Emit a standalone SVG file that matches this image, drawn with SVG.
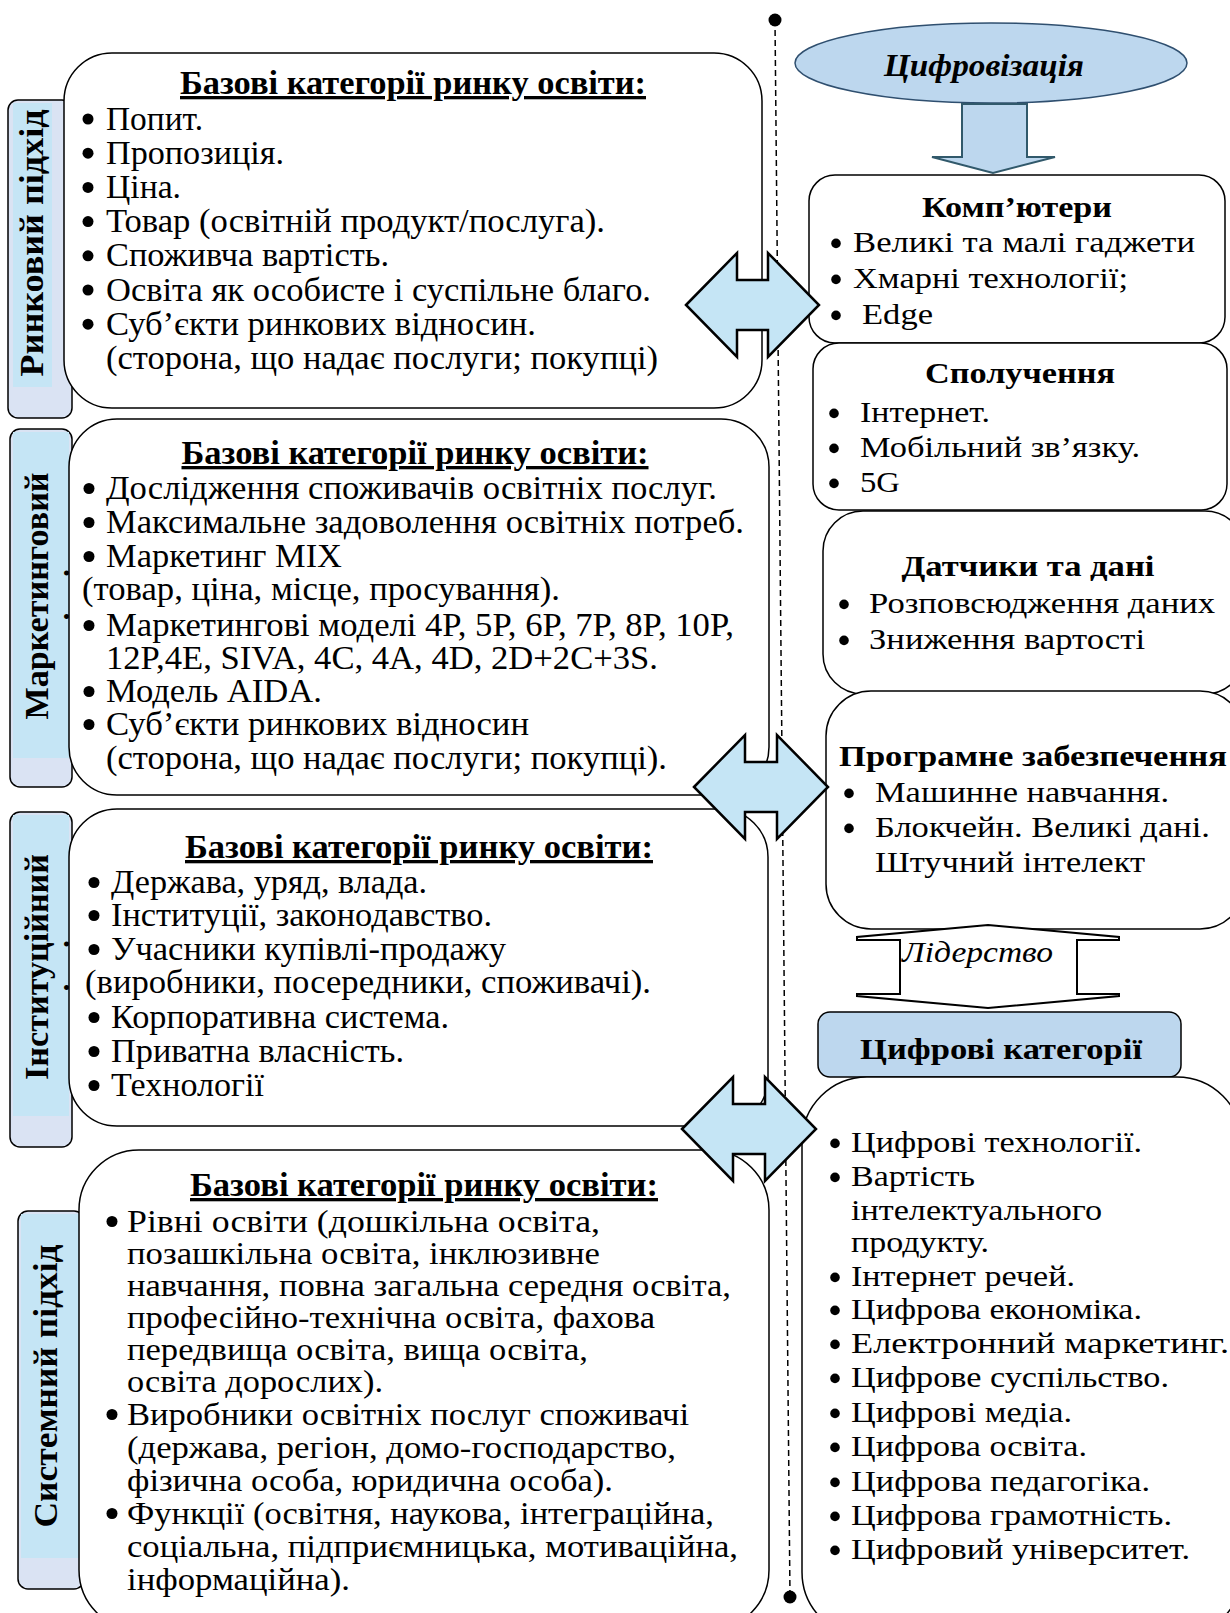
<svg xmlns="http://www.w3.org/2000/svg" width="1230" height="1613" viewBox="0 0 1230 1613">
<style>
text{font-family:"Liberation Serif","Times New Roman",serif;fill:#000}
.b{font-size:33px}
.b4{font-size:31px}
.r{font-size:30px}
.t{font-size:33px;font-weight:bold;text-decoration:underline}
.rt{font-size:30px;font-weight:bold}
.lab{font-size:34px;font-weight:bold}
.box{fill:#fff;stroke:#000;stroke-width:1.5}
.lbl{fill:#dae3f3;stroke:#000;stroke-width:1.5}
.lblin{fill:#c5e5f5}
.dot{fill:#000}
.dbl{fill:#c5e5f5;stroke:#000;stroke-width:2.5;stroke-linejoin:miter}
</style>
<defs>
<clipPath id="cL2"><rect x="10" y="429" width="62" height="358" rx="10"/></clipPath>
<clipPath id="cL3"><rect x="10" y="812" width="62" height="335" rx="10"/></clipPath>
</defs>
<rect width="1230" height="1613" fill="#fff"/>

<g id="connectors">
<path d="M775 20 L790 1597" stroke="#000" stroke-width="1.5" stroke-dasharray="6 4" fill="none"/>
<circle cx="775" cy="20" r="6.5" fill="#000"/>
<circle cx="790" cy="1597" r="6.5" fill="#000"/>
</g>

<g id="label-market">
<rect class="lbl" x="8" y="100" width="64" height="318" rx="10"/>
<rect class="lblin" x="13" y="103" width="39" height="284"/>
<text class="lab" transform="translate(43,243) rotate(-90)" text-anchor="middle" textLength="267" lengthAdjust="spacingAndGlyphs">Ринковий підхід</text>
</g>

<g id="box-market">
<rect class="box" x="64" y="53" width="698" height="355" rx="48"/>
<text class="t" x="413" y="94" text-anchor="middle" textLength="466" lengthAdjust="spacingAndGlyphs">Базові категорії ринку освіти:</text>
<g class="dot"><circle cx="88" cy="119" r="5.5"/><circle cx="88" cy="153.2" r="5.5"/><circle cx="88" cy="187.4" r="5.5"/><circle cx="88" cy="221.6" r="5.5"/><circle cx="88" cy="255.8" r="5.5"/><circle cx="88" cy="290" r="5.5"/><circle cx="88" cy="324.2" r="5.5"/></g>
<text class="b" x="106" y="129.5" textLength="97" lengthAdjust="spacingAndGlyphs">Попит.</text>
<text class="b" x="106" y="163.7" textLength="178" lengthAdjust="spacingAndGlyphs">Пропозиція.</text>
<text class="b" x="106" y="197.9" textLength="75" lengthAdjust="spacingAndGlyphs">Ціна.</text>
<text class="b" x="106" y="232.1" textLength="499" lengthAdjust="spacingAndGlyphs">Товар (освітній продукт/послуга).</text>
<text class="b" x="106" y="266.3" textLength="283" lengthAdjust="spacingAndGlyphs">Споживча вартість.</text>
<text class="b" x="106" y="300.5" textLength="545" lengthAdjust="spacingAndGlyphs">Освіта як особисте і суспільне благо.</text>
<text class="b" x="106" y="334.7" textLength="430" lengthAdjust="spacingAndGlyphs">Суб’єкти ринкових відносин.</text>
<text class="b" x="106" y="368.9" textLength="552" lengthAdjust="spacingAndGlyphs">(сторона, що надає послуги; покупці)</text>
</g>

<g id="label-marketing">
<rect class="lbl" x="10" y="429" width="62" height="358" rx="10"/>
<rect class="lblin" x="13" y="432" width="56" height="326"/>
<text class="lab" transform="translate(48,596) rotate(-90)" text-anchor="middle" textLength="247" lengthAdjust="spacingAndGlyphs">Маркетинговий</text>
<g clip-path="url(#cL2)"><text class="lab" transform="translate(88,596) rotate(-90)" text-anchor="middle">підхід</text></g>
</g>

<g id="box-marketing">
<rect class="box" x="69" y="419" width="700" height="376" rx="48"/>
<text class="t" x="415" y="464" text-anchor="middle" textLength="467" lengthAdjust="spacingAndGlyphs">Базові категорії ринку освіти:</text>
<g class="dot"><circle cx="89" cy="488.5" r="5.5"/><circle cx="89" cy="522.5" r="5.5"/><circle cx="89" cy="556.5" r="5.5"/><circle cx="89" cy="625.5" r="5.5"/><circle cx="89" cy="691.5" r="5.5"/><circle cx="89" cy="724.5" r="5.5"/></g>
<text class="b" x="106" y="499" textLength="611" lengthAdjust="spacingAndGlyphs">Дослідження споживачів освітніх послуг.</text>
<text class="b" x="106" y="533" textLength="638" lengthAdjust="spacingAndGlyphs">Максимальне задоволення освітніх потреб.</text>
<text class="b" x="106" y="567" textLength="236" lengthAdjust="spacingAndGlyphs">Маркетинг MIX</text>
<text class="b" x="82" y="600" textLength="478" lengthAdjust="spacingAndGlyphs">(товар, ціна, місце, просування).</text>
<text class="b" x="106" y="636" textLength="628" lengthAdjust="spacingAndGlyphs">Маркетингові моделі 4P, 5P, 6P, 7P, 8P, 10P,</text>
<text class="b" x="106" y="669" textLength="552" lengthAdjust="spacingAndGlyphs">12P,4E, SIVA, 4C, 4A, 4D, 2D+2C+3S.</text>
<text class="b" x="106" y="702" textLength="216" lengthAdjust="spacingAndGlyphs">Модель AIDA.</text>
<text class="b" x="106" y="735" textLength="423" lengthAdjust="spacingAndGlyphs">Суб’єкти ринкових відносин</text>
<text class="b" x="106" y="769" textLength="561" lengthAdjust="spacingAndGlyphs">(сторона, що надає послуги; покупці).</text>
</g>

<g id="label-institutional">
<rect class="lbl" x="10" y="812" width="62" height="335" rx="10"/>
<rect class="lblin" x="13" y="815" width="56" height="301"/>
<text class="lab" transform="translate(48,967) rotate(-90)" text-anchor="middle" textLength="226" lengthAdjust="spacingAndGlyphs">Інституційний</text>
<g clip-path="url(#cL3)"><text class="lab" transform="translate(88,967) rotate(-90)" text-anchor="middle">підхід</text></g>
</g>

<g id="box-institutional">
<rect class="box" x="69" y="809" width="699" height="317" rx="48"/>
<text class="t" x="419" y="858" text-anchor="middle" textLength="468" lengthAdjust="spacingAndGlyphs">Базові категорії ринку освіти:</text>
<g class="dot"><circle cx="94" cy="882.5" r="5.5"/><circle cx="94" cy="915.5" r="5.5"/><circle cx="94" cy="949.5" r="5.5"/><circle cx="94" cy="1017.5" r="5.5"/><circle cx="94" cy="1051.5" r="5.5"/><circle cx="94" cy="1085.5" r="5.5"/></g>
<text class="b" x="111" y="893" textLength="316" lengthAdjust="spacingAndGlyphs">Держава, уряд, влада.</text>
<text class="b" x="111" y="926" textLength="381" lengthAdjust="spacingAndGlyphs">Інституції, законодавство.</text>
<text class="b" x="111" y="960" textLength="395" lengthAdjust="spacingAndGlyphs">Учасники купівлі-продажу</text>
<text class="b" x="85" y="993" textLength="566" lengthAdjust="spacingAndGlyphs">(виробники, посередники, споживачі).</text>
<text class="b" x="111" y="1028" textLength="338" lengthAdjust="spacingAndGlyphs">Корпоративна система.</text>
<text class="b" x="111" y="1062" textLength="293" lengthAdjust="spacingAndGlyphs">Приватна власність.</text>
<text class="b" x="111" y="1096" textLength="153" lengthAdjust="spacingAndGlyphs">Технології</text>
</g>

<g id="label-system">
<rect class="lbl" x="18" y="1211" width="66" height="378" rx="10"/>
<rect class="lblin" x="21" y="1214" width="60" height="344"/>
<text class="lab" transform="translate(57,1386) rotate(-90)" text-anchor="middle" textLength="283" lengthAdjust="spacingAndGlyphs">Системний підхід</text>
</g>

<g id="box-system">
<rect class="box" x="79" y="1150" width="690" height="480" rx="60"/>
<text class="t" x="424" y="1196" text-anchor="middle" textLength="468" lengthAdjust="spacingAndGlyphs">Базові категорії ринку освіти:</text>
<g class="dot"><circle cx="112" cy="1221.5" r="5.5"/><circle cx="112" cy="1414.5" r="5.5"/><circle cx="112" cy="1513.5" r="5.5"/></g>
<text class="b4" x="127" y="1232" textLength="473" lengthAdjust="spacingAndGlyphs">Рівні освіти (дошкільна освіта,</text>
<text class="b4" x="127" y="1264" textLength="473" lengthAdjust="spacingAndGlyphs">позашкільна освіта, інклюзивне</text>
<text class="b4" x="127" y="1296" textLength="604" lengthAdjust="spacingAndGlyphs">навчання, повна загальна середня освіта,</text>
<text class="b4" x="127" y="1328" textLength="528" lengthAdjust="spacingAndGlyphs">професійно-технічна освіта, фахова</text>
<text class="b4" x="127" y="1360" textLength="461" lengthAdjust="spacingAndGlyphs">передвища освіта, вища освіта,</text>
<text class="b4" x="127" y="1392" textLength="256" lengthAdjust="spacingAndGlyphs">освіта дорослих).</text>
<text class="b4" x="127" y="1425" textLength="562" lengthAdjust="spacingAndGlyphs">Виробники освітніх послуг споживачі</text>
<text class="b4" x="127" y="1458" textLength="549" lengthAdjust="spacingAndGlyphs">(держава, регіон, домо-господарство,</text>
<text class="b4" x="127" y="1491" textLength="486" lengthAdjust="spacingAndGlyphs">фізична особа, юридична особа).</text>
<text class="b4" x="127" y="1524" textLength="587" lengthAdjust="spacingAndGlyphs">Функції (освітня, наукова, інтеграційна,</text>
<text class="b4" x="127" y="1557" textLength="611" lengthAdjust="spacingAndGlyphs">соціальна, підприємницька, мотиваційна,</text>
<text class="b4" x="127" y="1590" textLength="223" lengthAdjust="spacingAndGlyphs">інформаційна).</text>
</g>

<g id="digitalization">
<ellipse cx="991" cy="63" rx="196" ry="40" fill="#bdd7ee" stroke="#2f4f6f" stroke-width="1.5"/>
<text x="984" y="76" text-anchor="middle" font-size="32" font-weight="bold" font-style="italic" textLength="200" lengthAdjust="spacingAndGlyphs">Цифровізація</text>
</g>

<g id="arrow-down">
<path d="M962 104 L1027 104 L1027 157 L1055 157 L993 173 L932 157 L962 157 Z" fill="#bdd7ee" stroke="#31596b" stroke-width="2"/>
</g>

<g id="computers">
<rect class="box" x="809" y="175" width="416" height="168" rx="26"/>
<text class="rt" x="1017" y="217" text-anchor="middle" textLength="190" lengthAdjust="spacingAndGlyphs">Комп’ютери</text>
<g class="dot"><circle cx="836" cy="243.4" r="4.8"/><circle cx="836" cy="279.4" r="4.8"/><circle cx="836" cy="315.4" r="4.8"/></g>
<text class="r" x="853" y="252" textLength="342" lengthAdjust="spacingAndGlyphs">Великі та малі гаджети</text>
<text class="r" x="853" y="288" textLength="275" lengthAdjust="spacingAndGlyphs">Хмарні технології;</text>
<text class="r" x="862" y="324" textLength="71" lengthAdjust="spacingAndGlyphs">Edge</text>
</g>

<g id="connection">
<rect class="box" x="813" y="343" width="414" height="167" rx="26"/>
<text class="rt" x="1020" y="383" text-anchor="middle" textLength="190" lengthAdjust="spacingAndGlyphs">Сполучення</text>
<g class="dot"><circle cx="834" cy="413.4" r="4.8"/><circle cx="834" cy="448.4" r="4.8"/><circle cx="834" cy="483.4" r="4.8"/></g>
<text class="r" x="860" y="422" textLength="130" lengthAdjust="spacingAndGlyphs">Інтернет.</text>
<text class="r" x="860" y="457" textLength="280" lengthAdjust="spacingAndGlyphs">Мобільний зв’язку.</text>
<text class="r" x="860" y="492" textLength="40" lengthAdjust="spacingAndGlyphs">5G</text>
</g>

<g id="sensors">
<rect class="box" x="823" y="511" width="422" height="183" rx="40"/>
<text class="rt" x="1028" y="576" text-anchor="middle" textLength="253" lengthAdjust="spacingAndGlyphs">Датчики та дані</text>
<g class="dot"><circle cx="844" cy="604.4" r="4.8"/><circle cx="844" cy="640.4" r="4.8"/></g>
<text class="r" x="869" y="613" textLength="346" lengthAdjust="spacingAndGlyphs">Розповсюдження даних</text>
<text class="r" x="869" y="649" textLength="276" lengthAdjust="spacingAndGlyphs">Зниження вартості</text>
</g>

<g id="software">
<rect class="box" x="826" y="691" width="419" height="238" rx="45"/>
<text class="rt" x="839" y="766" textLength="388" lengthAdjust="spacingAndGlyphs">Програмне забезпечення</text>
<g class="dot"><circle cx="849" cy="793.4" r="4.8"/><circle cx="849" cy="828.4" r="4.8"/></g>
<text class="r" x="875" y="802" textLength="294" lengthAdjust="spacingAndGlyphs">Машинне навчання.</text>
<text class="r" x="875" y="837" textLength="335" lengthAdjust="spacingAndGlyphs">Блокчейн. Великі дані.</text>
<text class="r" x="875" y="872" textLength="270" lengthAdjust="spacingAndGlyphs">Штучний інтелект</text>
</g>

<g id="leadership">
<path d="M988 925 L1119 937 L1119 940 L1077 940 L1077 994 L1119 994 L1119 996 L988 1008 L857 996 L857 994 L900 994 L900 940 L857 940 L857 937 Z" fill="#fff" stroke="#000" stroke-width="2" stroke-linejoin="miter"/>
<text x="902" y="962" font-size="30" font-style="italic" textLength="151" lengthAdjust="spacingAndGlyphs">Лідерство</text>
</g>

<g id="digital-categories-title">
<rect x="818" y="1012" width="363" height="65" rx="12" fill="#bdd7ee" stroke="#000" stroke-width="1.5"/>
<text class="rt" x="860" y="1059" textLength="282" lengthAdjust="spacingAndGlyphs">Цифрові категорії</text>
</g>

<g id="digital-categories">
<rect class="box" x="802" y="1077" width="440" height="560" rx="65"/>
<g class="dot"><circle cx="835" cy="1143.4" r="4.8"/><circle cx="835" cy="1177.4" r="4.8"/><circle cx="835" cy="1277.4" r="4.8"/><circle cx="835" cy="1310.4" r="4.8"/><circle cx="835" cy="1344.4" r="4.8"/><circle cx="835" cy="1378.4" r="4.8"/><circle cx="835" cy="1413.4" r="4.8"/><circle cx="835" cy="1447.4" r="4.8"/><circle cx="835" cy="1482.4" r="4.8"/><circle cx="835" cy="1516.4" r="4.8"/><circle cx="835" cy="1550.4" r="4.8"/></g>
<text class="r" x="851" y="1152" textLength="291" lengthAdjust="spacingAndGlyphs">Цифрові технології.</text>
<text class="r" x="851" y="1186" textLength="124" lengthAdjust="spacingAndGlyphs">Вартість</text>
<text class="r" x="851" y="1220" textLength="251" lengthAdjust="spacingAndGlyphs">інтелектуального</text>
<text class="r" x="851" y="1252" textLength="138" lengthAdjust="spacingAndGlyphs">продукту.</text>
<text class="r" x="851" y="1286" textLength="224" lengthAdjust="spacingAndGlyphs">Інтернет речей.</text>
<text class="r" x="851" y="1319" textLength="291" lengthAdjust="spacingAndGlyphs">Цифрова економіка.</text>
<text class="r" x="851" y="1353" textLength="378" lengthAdjust="spacingAndGlyphs">Електронний маркетинг.</text>
<text class="r" x="851" y="1387" textLength="318" lengthAdjust="spacingAndGlyphs">Цифрове суспільство.</text>
<text class="r" x="851" y="1422" textLength="221" lengthAdjust="spacingAndGlyphs">Цифрові медіа.</text>
<text class="r" x="851" y="1456" textLength="236" lengthAdjust="spacingAndGlyphs">Цифрова освіта.</text>
<text class="r" x="851" y="1491" textLength="299" lengthAdjust="spacingAndGlyphs">Цифрова педагогіка.</text>
<text class="r" x="851" y="1525" textLength="321" lengthAdjust="spacingAndGlyphs">Цифрова грамотність.</text>
<text class="r" x="851" y="1559" textLength="339" lengthAdjust="spacingAndGlyphs">Цифровий університет.</text>
</g>

<g id="double-arrows">
<path class="dbl" d="M686 305 L737 253 L737 280 L768 280 L768 253 L819 305 L768 357 L768 330 L737 330 L737 357 Z"/>
<path class="dbl" d="M694 787 L745 735 L745 762 L777 762 L777 735 L828 787 L777 839 L777 812 L745 812 L745 839 Z"/>
<path class="dbl" d="M682 1129 L733 1077 L733 1104 L765 1104 L765 1077 L816 1129 L765 1181 L765 1154 L733 1154 L733 1181 Z"/>
</g>
</svg>
